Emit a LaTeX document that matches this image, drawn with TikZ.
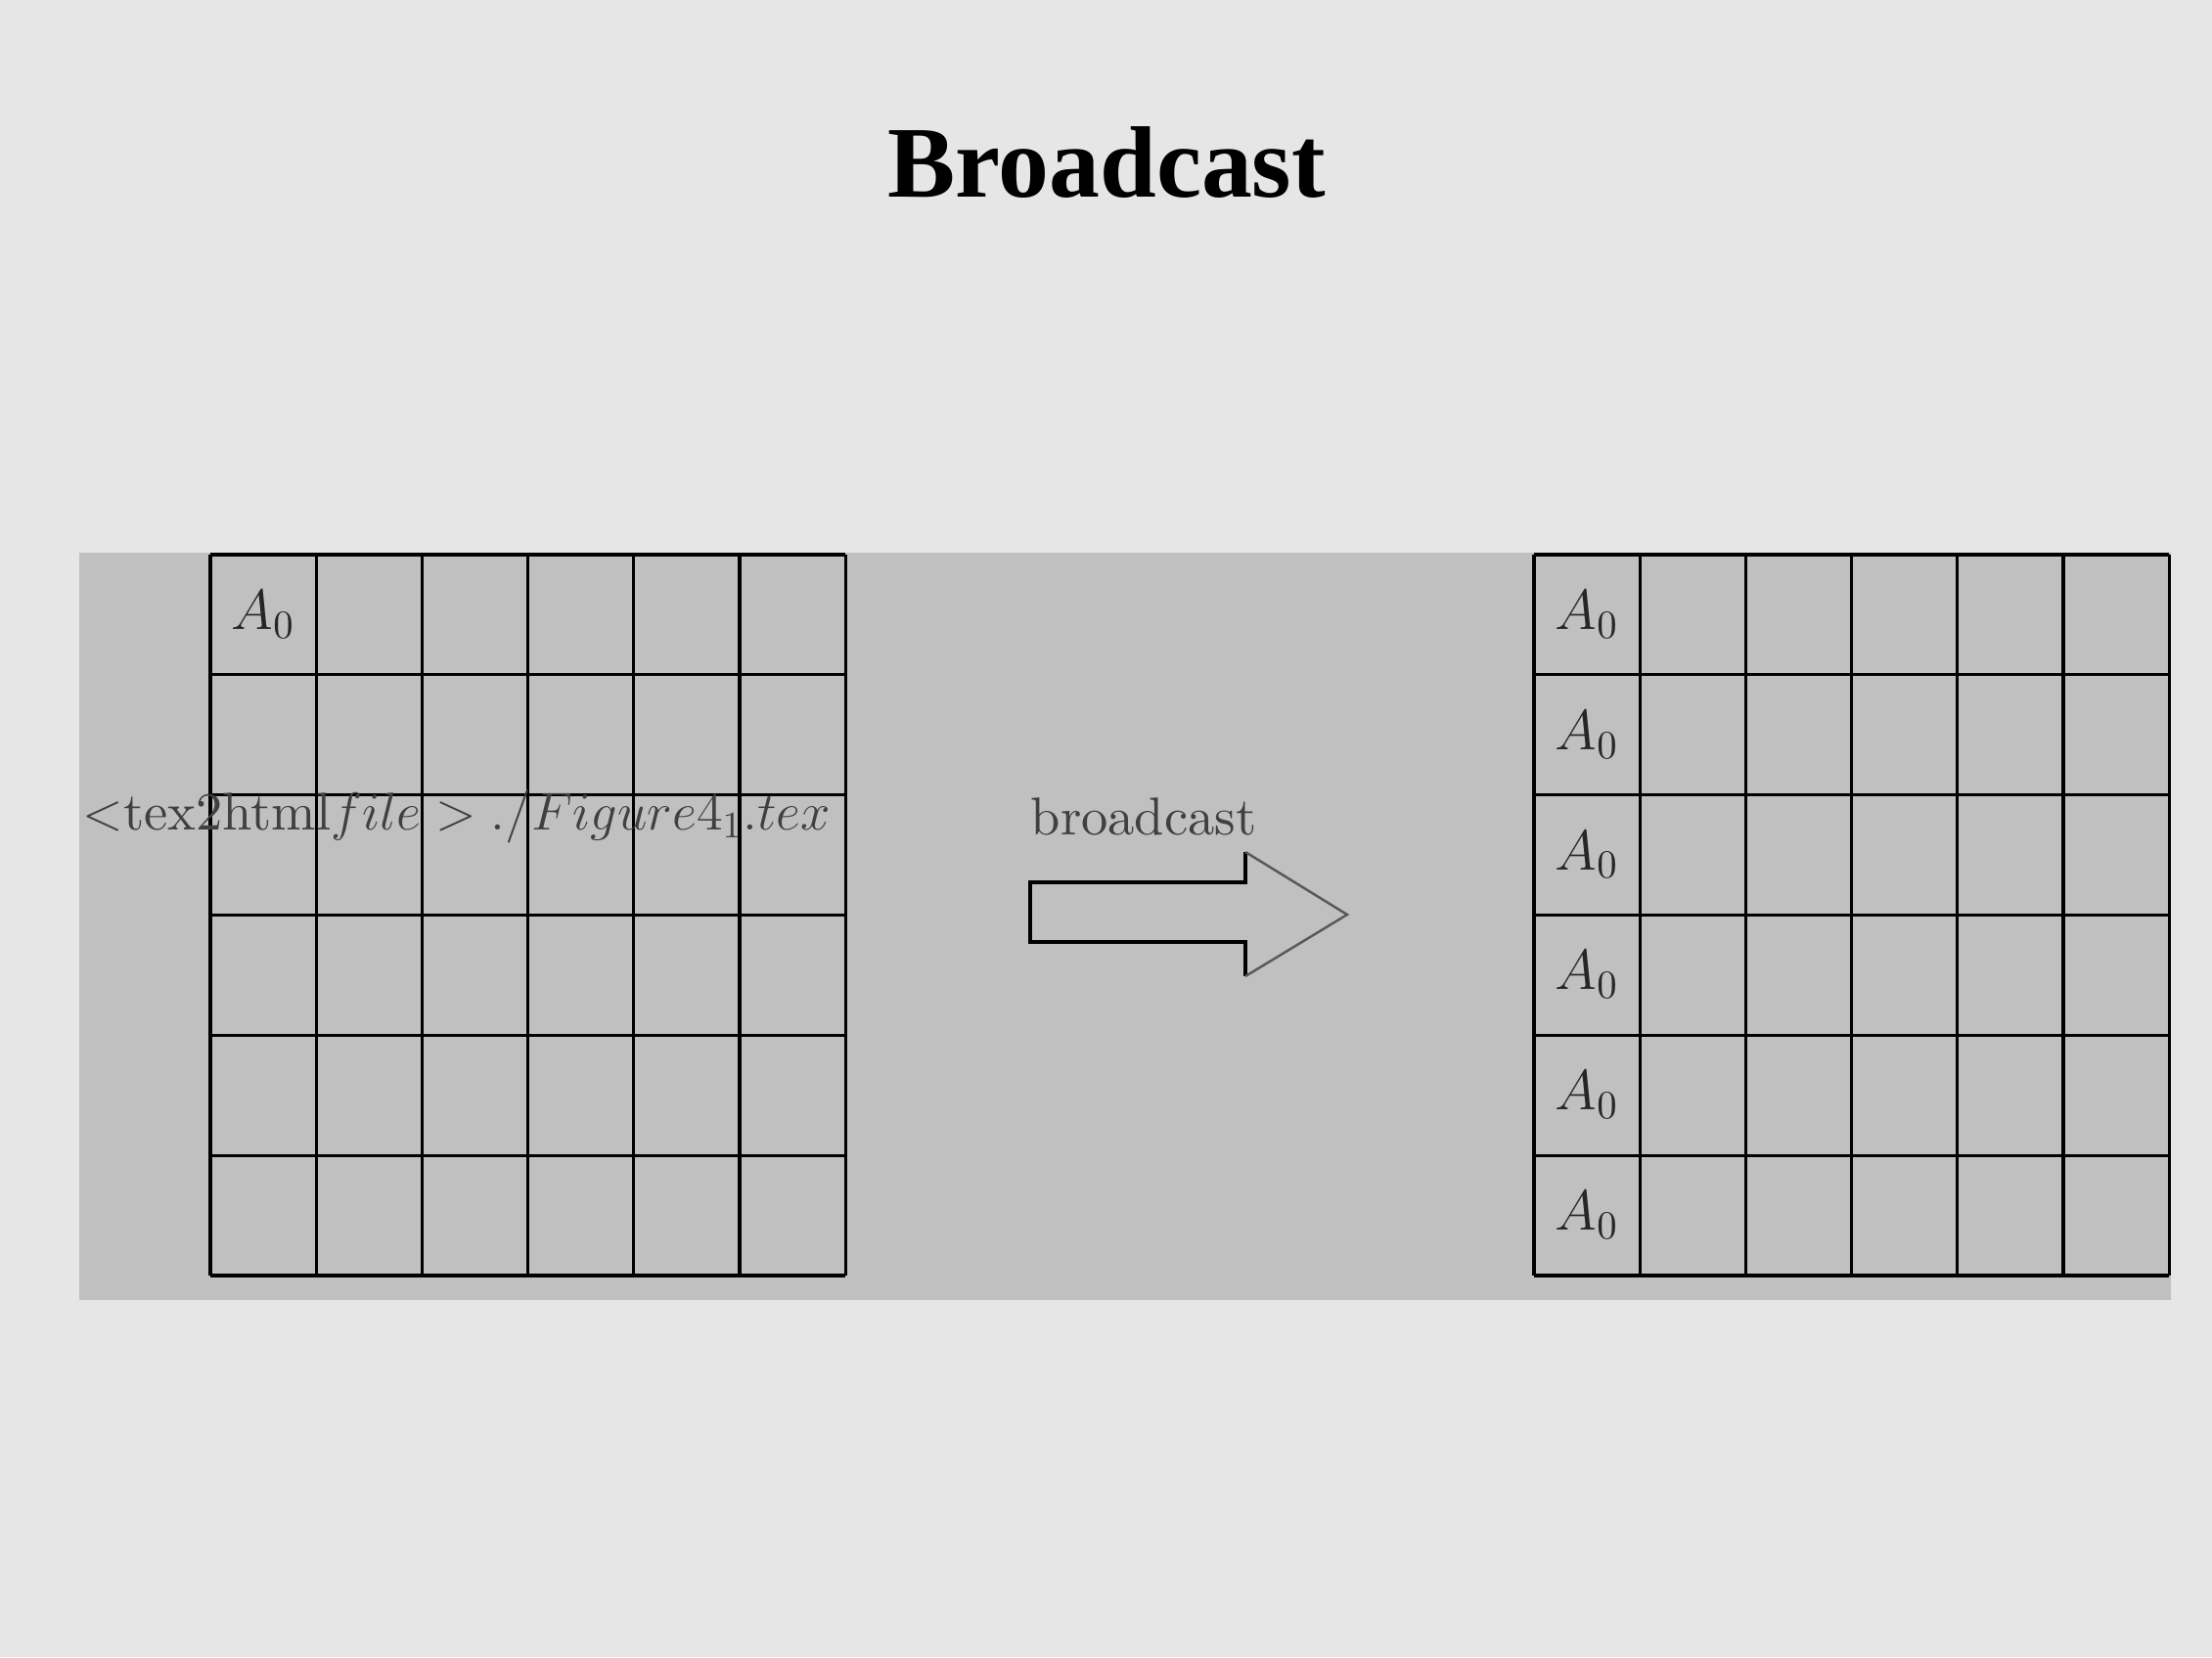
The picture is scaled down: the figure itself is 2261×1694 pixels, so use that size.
\RequirePackage{fix-cm}
\documentclass[tikz,border=0pt]{standalone}
\usepackage{fontspec}
\newfontfamily\titlefont{Liberation Serif}
\newfontfamily\labelfont{lmroman10-regular.otf}
\definecolor{slidebg}{gray}{0.902}
\definecolor{panelbg}{gray}{0.753}
\definecolor{headgray}{gray}{0.35}
\tikzset{
  cellline/.style={line width=0.9pt, black},
  celltext/.style={font=\fontsize{16.5}{20}\selectfont, text=black!85, inner sep=0pt},
  labeltext/.style={font=\labelfont\fontsize{15.5}{19}\selectfont, text=black!75, inner sep=0pt},
}

\begin{document}
\begin{tikzpicture}[x=0.01cm, y=-0.01cm]

    \fill[slidebg] (0,0) rectangle (2261,1694);
    \useasboundingbox (0,0) rectangle (2261,1694);
    \fill[panelbg] (81,565) rectangle (2219,1329);

    \node[font=\titlefont\bfseries\fontsize{29.5}{34}\selectfont, anchor=base] (title) at (1131,202) {Broadcast};

    % the two 6x6 grids
    \foreach \gx in {215,1568} {
        \foreach \k in {0,...,6} {
            \draw[cellline] ({\gx+108.2*\k},567) -- ({\gx+108.2*\k},1304);
            \draw[cellline] (\gx,{567+122.83*\k}) -- ({\gx+649.2},{567+122.83*\k});
        }
    }

    \node[celltext] (src) at (269,628) {$A_0$};
    \foreach \r in {0,...,5}
        \node[celltext] (dst\r) at (1622,{628+122.83*\r}) {$A_0$};

    \node[labeltext, anchor=base west] (filelabel) at (84,848) {$<$tex2html$file > ./Figure4_1.tex$};
    \node[labeltext, anchor=base west] (bclabel) at (1053,853) {broadcast};

    % big arrow
    \draw[cellline] (1273,871) -- (1273,902) -- (1053,902) -- (1053,963) -- (1273,963) -- (1273,998);
    \draw[headgray, line width=0.7pt] (1273,871) -- (1377,935) -- (1273,998);

\end{tikzpicture}
\end{document}
